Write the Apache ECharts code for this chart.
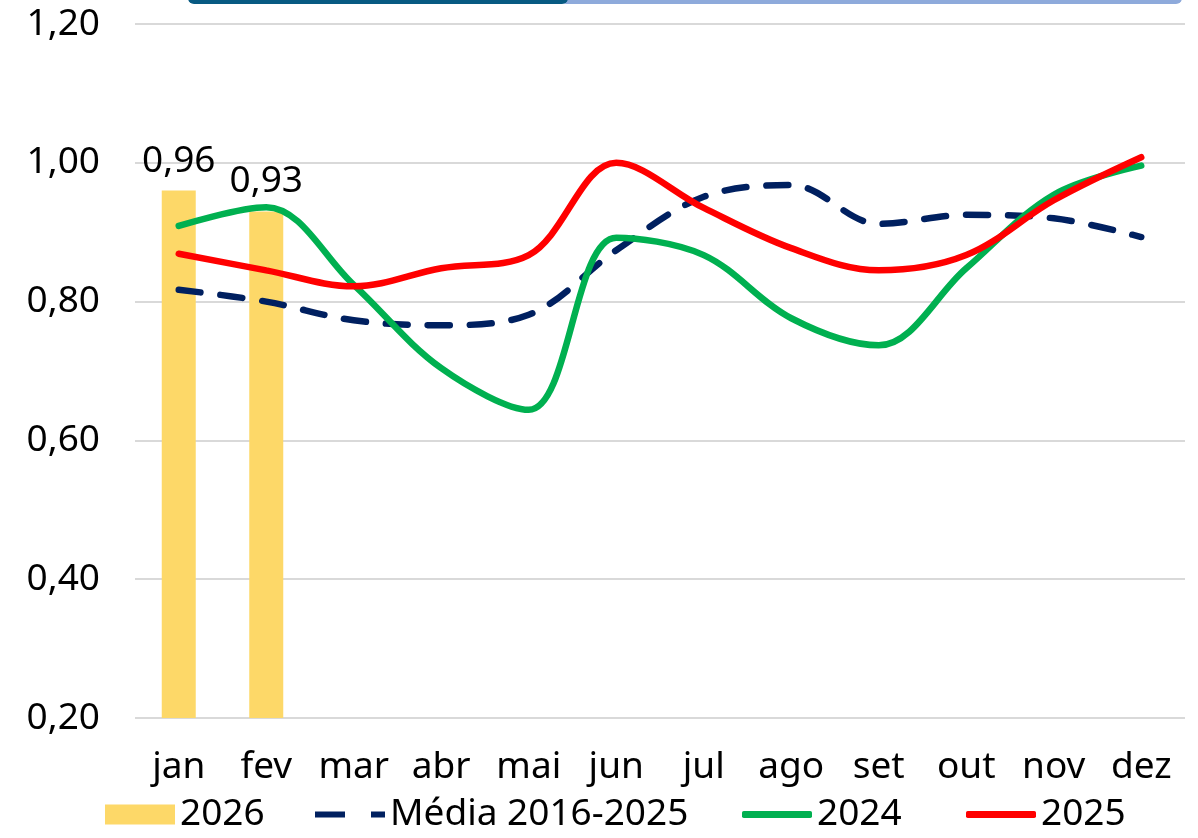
<!DOCTYPE html>
<html>
<head>
<meta charset="utf-8">
<script src="https://cdn.jsdelivr.net/npm/echarts@6/dist/echarts.min.js"></script>
<style>
  html, body { margin: 0; padding: 0; background: #fff; }
  #chart { width: 1198px; height: 838px; }
</style>
</head>
<body>
<div id="chart"></div>
<script>
// categorias e séries
var meses = ["jan", "fev", "mar", "abr", "mai", "jun", "jul", "ago", "set", "out", "nov", "dez"];
var serie2026 = [0.96, 0.93];
var mediaHist = [0.817, 0.800, 0.773, 0.766, 0.781, 0.874, 0.951, 0.968, 0.912, 0.925, 0.920, 0.893];
var serie2024 = [0.909, 0.936, 0.824, 0.704, 0.644, 0.892, 0.867, 0.776, 0.737, 0.848, 0.954, 0.996];
var serie2025 = [0.869, 0.845, 0.822, 0.848, 0.867, 1.000, 0.935, 0.877, 0.845, 0.867, 0.946, 1.008];

var fonte = "Noto Sans";
var tam = 37;

function virgula(v, casas) {
  return v.toFixed(casas).replace(".", ",");
}

// uma legenda por item, para acertar as posições
function legenda(nome, esq, altura, icone) {
  return {
    data: [{ name: nome, icon: icone }],
    bottom: 0,
    left: esq,
    itemWidth: 70,
    itemHeight: altura,
    textStyle: { fontSize: tam, color: "#000" },
  };
}

var myChart = echarts.init(document.getElementById("chart"));
myChart.setOption({
  animation: false,
  textStyle: { fontFamily: fonte },
  graphic: [
    // faixa do cabeçalho cortada no topo
    {
      type: "rect",
      shape: { x: 560, y: -12, width: 622, height: 16, r: 6 },
      style: { fill: "#8eaadb" },
    },
    {
      type: "rect",
      shape: { x: 188, y: -12, width: 380, height: 16, r: 6 },
      style: { fill: "#075a82" },
    },
  ],
  grid: {
    left: 135,
    right: 13,
    top: 24,
    bottom: 120,
  },
  legend: [
    legenda("2026", 100, 20, "rect"),
    legenda("Média 2016-2025", 310, 7, "path://M0,0 L30,0 L30,6 L0,6 Z M56,0 L70,0 L70,6 L56,6 Z"),
    legenda("2024", 737, 7, "roundRect"),
    legenda("2025", 961, 7, "roundRect"),
  ],
  xAxis: {
    type: "category",
    data: meses,
    axisLine: { show: false },
    axisTick: { show: false },
    axisLabel: { fontSize: tam, color: "#000", margin: 31, interval: 0 },
  },
  yAxis: {
    type: "value",
    min: 0.2,
    max: 1.2,
    interval: 0.2,
    axisLabel: {
      fontSize: tam,
      color: "#000",
      margin: 35,
      formatter: function (v) {
        return virgula(v, 2);
      },
    },
    splitLine: { lineStyle: { color: "#d9d9d9", width: 2 } },
  },
  series: [
    {
      name: "2026",
      type: "bar",
      data: serie2026,
      barWidth: 34,
      itemStyle: { color: "#fdd868" },
      label: {
        show: true,
        position: "top",
        distance: 11,
        fontSize: tam,
        color: "#000",
        formatter: function (p) {
          return virgula(p.value, 2);
        },
      },
    },
    {
      name: "Média 2016-2025",
      type: "line",
      data: mediaHist,
      smooth: 0.35,
      symbol: "none",
      lineStyle: { color: "#002060", width: 6.5, type: [22, 20], cap: "round" },
      itemStyle: { color: "#002060" },
    },
    {
      name: "2024",
      type: "line",
      data: serie2024,
      smooth: 0.35,
      symbol: "none",
      lineStyle: { color: "#00b050", width: 6.5, cap: "round" },
      itemStyle: { color: "#00b050" },
    },
    {
      name: "2025",
      type: "line",
      data: serie2025,
      smooth: 0.35,
      symbol: "none",
      lineStyle: { color: "#ff0000", width: 6.5, cap: "round" },
      itemStyle: { color: "#ff0000" },
    },
  ],
});
</script>
</body>
</html>
